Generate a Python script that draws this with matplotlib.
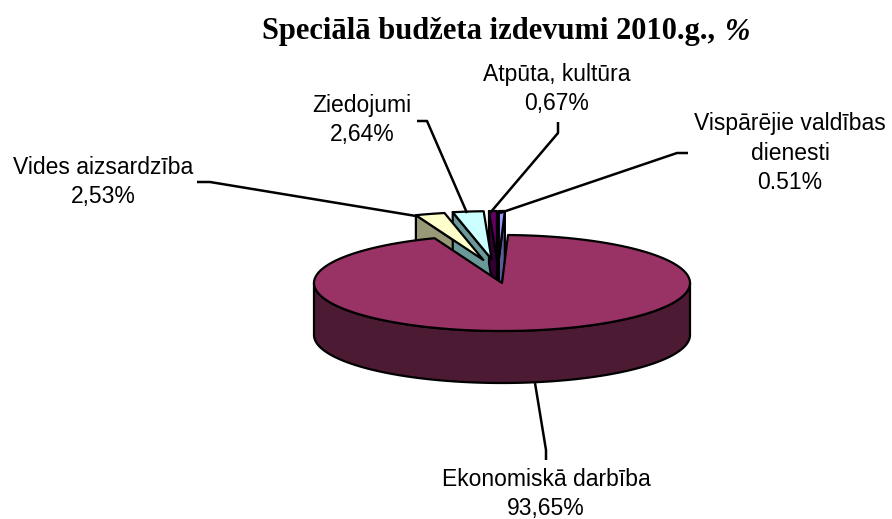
import numpy as np
import matplotlib
matplotlib.use("Agg")
import matplotlib.pyplot as plt
from matplotlib.patches import Polygon

# dati (secība kā Excel tabulā, pulksteņrādītāja virzienā no plkst. 12)
nozares = ["Vispārējie valdības\ndienesti", "Ekonomiskā darbība", "Vides aizsardzība",
           "Ziedojumi", "Atpūta, kultūra"]
procenti = [0.51, 93.65, 2.53, 2.64, 0.67]
etiketes = ["0.51%", "93,65%", "2,53%", "2,64%", "0,67%"]
izvirzits = [True, False, True, True, True]

krasas_augsa = ["#9999FF", "#993366", "#FFFFCC", "#CCFFFF", "#660066"]
krasas_sani = ["#5C5C99", "#4C1B33", "#999977", "#6B9999", "#330033"]

# ģeometrija pikseļos
cx, cy, rx, ry, dzilums = 502, 283, 188, 48, 52
izvirze = 0.5
izv_x, izv_nobide = 0.55, -4  # Excel perspektīvas dēļ izvirzījums pa x ir mazāks


fig = plt.figure(figsize=(8.92, 5.19), dpi=100)
ax = fig.add_axes([0, 0, 1, 1])
ax.set_xlim(0, 892)
ax.set_ylim(519, 0)
ax.axis("off")


def punkts(th, off, r=1.0, z=0.0):
    t = np.radians(th)
    return (cx + off[0] + r * rx * np.sin(t), cy + off[1] - r * ry * np.cos(t) + z)


def loks(a, b, off, z=0.0):
    th = np.linspace(a, b, max(int(abs(b - a) * 2), 2))
    return [punkts(t, off, z=z) for t in th]


kopa = sum(procenti)
robezas = np.cumsum([0] + [p / kopa * 360 for p in procenti])

sienas, arejas, virsas = [], [], []
for i, p in enumerate(procenti):
    a, b = robezas[i], robezas[i + 1]
    vid = np.radians((a + b) / 2)
    if izvirzits[i]:
        off = (izvirze * izv_x * rx * np.sin(vid) + izv_nobide, -izvirze * ry * np.cos(vid))
    else:
        off = (0, 0)
    c0 = punkts(0, off, r=0)
    c1 = punkts(0, off, r=0, z=dzilums)
    # radiālās sienas
    if np.sin(np.radians(a)) < -1e-6:
        sienas.append(([c0, punkts(a, off), punkts(a, off, z=dzilums), c1], krasas_sani[i]))
    if np.sin(np.radians(b)) > 1e-6:
        sienas.append(([c0, punkts(b, off), punkts(b, off, z=dzilums), c1], krasas_sani[i]))
    # ārējā siena (priekšējā puse)
    s, e = max(a, 90), min(b, 270)
    if e > s:
        arejas.append((loks(s, e, off) + loks(e, s, off, z=dzilums), krasas_sani[i]))
    virsas.append(([c0] + loks(a, b, off), krasas_augsa[i]))

for poli, kr in sienas + arejas + virsas:
    ax.add_patch(Polygon(poli, closed=True, facecolor=kr, edgecolor="black",
                         linewidth=1.6, joinstyle="round"))

# etiķetes un līnijas
teksta_vietas = [(790, 153), (546, 494), (103, 182), (362, 120), (557, 89)]
linijas = [
    [(688, 153), (677, 153), (500, 213)],
    [(546, 460), (546, 450), (535, 383)],
    [(197, 182), (210, 182), (416, 216)],
    [(417, 121), (427, 121), (467, 213)],
    [(558, 122), (558, 133), (490, 213)],
]
for i in range(len(procenti)):
    ax.text(teksta_vietas[i][0], teksta_vietas[i][1], nozares[i] + "\n" + etiketes[i],
            ha="center", va="center", fontsize=16.5, family="Liberation Sans",
            linespacing=1.35, color="black")
    xs, ys = zip(*linijas[i])
    ax.plot(xs, ys, color="black", linewidth=1.8, solid_capstyle="butt")

ax.text(715, 32, "Speciālā budžeta izdevumi 2010.g.,", ha="right", va="center",
        fontsize=22, family="Liberation Serif", fontweight="bold")
ax.text(724, 32, "%", ha="left", va="center", fontsize=22,
        family="Liberation Serif", fontweight="bold", style="italic")

fig.savefig("out.png", dpi=100)
